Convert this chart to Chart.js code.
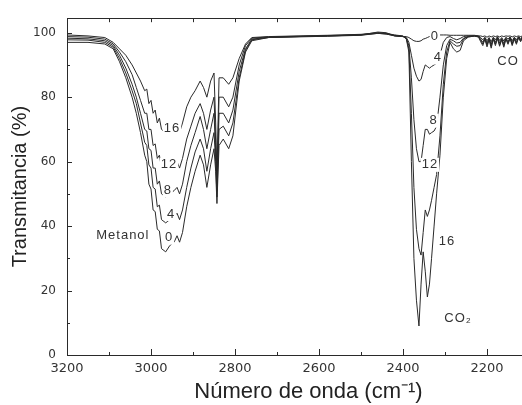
<!DOCTYPE html>
<html>
<head>
<meta charset="utf-8">
<script src="https://cdn.jsdelivr.net/npm/chart.js@4"></script>
<style>
  html, body { margin: 0; padding: 0; background: #fff; overflow: hidden; }
  /* the figure is cropped on the right, like the scanned original */
  #wrap { width: 550px; height: 405px; }
</style>
</head>
<body>
<div id="wrap"><canvas id="c"></canvas></div>
<script>
// IR spectra (transmittance vs. wavenumber) for methanol + CO2/CO, five exposure times.

const waveNumber = [
  3200, 3150, 3110, 3090, 3075, 3060, 3045, 3035, 3025, 3015, 3010, 3005, 3000, 2995, 2990, 2985,
  2980, 2975, 2965, 2955, 2945, 2938, 2932, 2925, 2915, 2905, 2895, 2883, 2875, 2867, 2858, 2850,
  2846, 2843, 2838, 2828, 2815, 2805, 2790, 2775, 2760,
  2720, 2650, 2580, 2500, 2460, 2440, 2420, 2400,
  2392, 2386, 2380, 2374, 2368, 2362, 2357, 2352, 2347, 2342, 2337, 2332, 2326, 2320, 2312, 2304,
  2296, 2288, 2280, 2272, 2264, 2256, 2245, 2230,
  2220, 2215, 2210, 2205, 2200, 2195, 2190, 2185, 2180, 2175, 2170, 2165, 2160, 2155, 2150, 2145,
  2140, 2135, 2130, 2125, 2120, 2115, 2110
];

const trans0 = [
  97, 97, 96.5, 95, 91, 86, 80, 75, 69, 62, 60, 53, 51.5, 45, 44.5, 39,
  38.5, 33, 32, 34, 35, 37, 35, 38, 46, 52, 57, 62, 59, 52, 59, 64,
  57, 47, 65, 67, 64, 68, 85, 94, 97.5,
  98.5, 98.8, 99, 99.3, 100.2, 100, 99, 98.8,
  98.8, 98.5, 98, 97.5, 97.3, 97.3, 97.5, 98, 98.2, 98.5, 98.8, 99, 99.2, 99.3, 99.3, 99.3,
  99.3, 99.2, 99.2, 99.2, 99.2, 99.2, 99.2, 99.2,
  99, 99, 98.8, 99, 98.6, 99, 98.7, 99, 98.8, 99, 98.7, 99, 98.8, 99, 98.9, 99,
  98.7, 99, 98.8, 99, 98.8, 99, 99
];

const trans4 = [
  97.8, 97.7, 97, 95.5, 92, 87.5, 82, 78, 72, 66, 65, 59, 58, 52, 51.5, 46,
  46.5, 42, 41, 42, 43, 44, 42, 45, 52, 58, 63, 67, 64, 57, 64, 69,
  60, 49, 70, 71, 68, 72, 86, 94.5, 97.8,
  98.5, 98.7, 98.9, 99.2, 99.8, 99.6, 99, 98.8,
  98.5, 97, 93, 89, 86.5, 85, 85.5, 88, 90, 89.5, 89, 89.5, 90, 90.5, 93, 97,
  98.5, 98.8, 98.2, 97.8, 98.2, 98.8, 99, 99,
  99, 98.5, 97.8, 98.6, 97.5, 98.5, 97.2, 98.6, 97.8, 98.8, 97.6, 98.5, 97.4, 98.6, 98, 98.7,
  97.5, 98.6, 97.8, 98.8, 98.2, 98.8, 99
];

const trans8 = [
  98.3, 98.1, 97.5, 96, 93, 89, 84, 80, 75, 70, 69.5, 64, 63.5, 58, 58, 53,
  54, 50, 49, 50, 51, 52, 50, 53, 60, 65, 69, 74, 70, 64, 70, 75,
  63, 51, 75, 75, 72, 76, 88, 95, 98,
  98.6, 98.8, 99, 99.3, 99.8, 99.6, 99.1, 98.8,
  98.3, 96, 86, 73, 64, 60, 60, 65, 70, 70, 68.5, 69, 69.5, 71, 80, 90,
  96, 98, 97.5, 96.8, 97, 98.3, 98.8, 99,
  98.8, 98, 97, 98.4, 96.8, 98.2, 96.4, 98.4, 97, 98.6, 96.8, 98.2, 96.6, 98.3, 97.2, 98.5,
  96.8, 98.4, 97.2, 98.6, 97.8, 98.7, 98.8
];

const trans12 = [
  98.8, 98.6, 98, 96.5, 94, 91, 87, 83, 79, 75, 75, 70, 70, 65, 65.5, 61,
  62, 58, 57.5, 58, 59, 60, 58, 61, 67, 71, 75, 78, 75, 70, 76, 80,
  66, 53, 80, 80, 77, 80, 90, 96, 98.3,
  98.7, 98.9, 99.1, 99.4, 99.9, 99.7, 99.2, 98.9,
  98.2, 95, 75, 52, 39, 33, 31, 38, 45, 43, 45, 48, 52, 56, 68, 84,
  94, 97.5, 96.5, 95.8, 96, 98, 98.8, 99,
  98.8, 97.6, 96.5, 98.2, 96.2, 98, 95.8, 98.2, 96.5, 98.4, 96.2, 98, 96, 98.2, 96.8, 98.4,
  96.4, 98.2, 96.8, 98.5, 97.5, 98.6, 98.8
];

const trans16 = [
  99.3, 99, 98.5, 97, 95, 93, 90, 87.5, 85, 82, 82.5, 78, 79, 75, 76, 72,
  73.5, 70, 69, 69.5, 70, 71, 69, 72, 77, 80, 82, 85, 83, 80, 85, 87.5,
  72, 56, 86, 86, 84, 86, 92, 96.5, 98.5,
  98.8, 99, 99.2, 99.5, 100, 99.8, 99.3, 99,
  98, 94, 60, 30, 17, 9, 22, 32, 26, 18, 22, 30, 40, 50, 62, 80,
  92, 97, 95, 94, 94.5, 97.5, 98.6, 99,
  98.6, 97.2, 96, 98, 95.6, 97.8, 95.2, 98, 96, 98.2, 95.8, 97.8, 95.5, 98, 96.4, 98.2,
  96, 98, 96.4, 98.4, 97.2, 98.5, 98.7
];

const seriesNames = ["0", "4", "8", "12", "16"];
const seriesValues = [trans0, trans4, trans8, trans12, trans16];

const xTicks = [3200, 3000, 2800, 2600, 2400, 2200];
const yTicks = [0, 20, 40, 60, 80, 100];

// text written on the plot: [text, wavenumber, transmittance]
const curveLabels = [
  ["Metanol", 3067, 37],
  ["0", 2957, 36.4], ["4", 2952, 43.7], ["8", 2960, 51], ["12", 2957, 59], ["16", 2950, 70.3],
  ["0", 2324, 99], ["4", 2317, 92.3], ["8", 2327, 72.7], ["12", 2336, 59], ["16", 2295, 35.1],
  ["CO\u2082", 2269, 11.3], ["CO", 2150, 91],
];

const INK = "#2a2a2a";

// inward tick marks on bottom/top/left plus the top frame line
const frame = {
  id: "frame",
  afterDraw(chart) {
    const { ctx, chartArea: a, scales: { x, y } } = chart;
    const r = (v) => Math.round(v) + 0.5;
    ctx.save();
    ctx.strokeStyle = INK;
    ctx.lineWidth = 1;
    ctx.beginPath();
    ctx.moveTo(a.left, r(a.top));
    ctx.lineTo(a.right, r(a.top));
    for (let v = 2100; v <= 3200; v += 100) {
      const px = r(x.getPixelForValue(v));
      ctx.moveTo(px, a.bottom);
      ctx.lineTo(px, a.bottom - (v % 200 === 0 ? 6 : 3));
      ctx.moveTo(px, a.top);
      ctx.lineTo(px, a.top + 4);
    }
    for (let v = 10; v <= 100; v += 10) {
      const py = r(y.getPixelForValue(v));
      ctx.moveTo(a.left, py);
      ctx.lineTo(a.left + (v % 20 === 0 ? 5 : 3), py);
    }
    ctx.stroke();
    ctx.restore();
  },
};

const annotations = {
  id: "annotations",
  afterDatasetsDraw(chart) {
    const { ctx, scales: { x, y } } = chart;
    ctx.save();
    ctx.font = '13px "Liberation Sans", Arial, sans-serif';
    ctx.letterSpacing = "1px";
    ctx.textAlign = "center";
    ctx.textBaseline = "middle";
    curveLabels.forEach(([text, wn, t]) => {
      const px = x.getPixelForValue(wn), py = y.getPixelForValue(t);
      const w = ctx.measureText(text).width;
      ctx.fillStyle = "#fff";
      ctx.fillRect(px - w / 2 - 1, py - 7, w + 2, 14);
      ctx.fillStyle = "#333";
      ctx.fillText(text, px, py);
    });
    ctx.restore();
  },
};

new Chart(document.getElementById("c"), {
  type: "line",
  data: {
    datasets: seriesValues.map((vals, k) => ({
      label: seriesNames[k],
      data: waveNumber.map((wn, i) => ({ x: wn, y: vals[i] })),
      borderColor: INK,
      borderWidth: 1,
      pointRadius: 0,
      tension: 0,
      fill: false,
    })),
  },
  options: {
    responsive: true,
    maintainAspectRatio: false,
    animation: false,
    layout: { padding: { top: 13, right: 0, bottom: 0, left: 0 } },
    plugins: { legend: { display: false }, tooltip: { enabled: false } },
    scales: {
      x: {
        type: "linear",
        reverse: true,
        min: 2050,
        max: 3200,
        afterBuildTicks: (s) => { s.ticks = xTicks.map((v) => ({ value: v })); },
        afterFit: (s) => { s.height = 50; },
        grid: { display: false, drawTicks: false },
        border: { display: true, color: INK, width: 1 },
        ticks: {
          color: "#333",
          padding: 6,
          maxRotation: 0,
          callback: (v) => String(v),
          font: { family: '"DejaVu Sans", sans-serif', size: 13 },
        },
        title: {
          display: true,
          text: "Número de onda (cm\u207B\u00B9)",
          color: "#222",
          font: { family: '"Liberation Sans", Arial, sans-serif', size: 22 },
          padding: { top: 0, bottom: 0 },
        },
      },
      y: {
        min: 0,
        max: 104.5,
        afterBuildTicks: (s) => { s.ticks = yTicks.map((v) => ({ value: v })); },
        afterFit: (s) => { s.width = 67; },
        grid: { display: false, drawTicks: false },
        border: { display: true, color: INK, width: 1 },
        ticks: {
          color: "#333",
          padding: 11,
          callback: (v) => String(v),
          font: { family: '"DejaVu Sans", sans-serif', size: 12 },
        },
        title: {
          display: true,
          text: "Transmitancia (%)",
          color: "#222",
          font: { family: '"Liberation Sans", Arial, sans-serif', size: 20 },
          padding: { top: 8, bottom: 0 },
        },
      },
    },
  },
  plugins: [frame, annotations],
});
</script>
</body>
</html>
